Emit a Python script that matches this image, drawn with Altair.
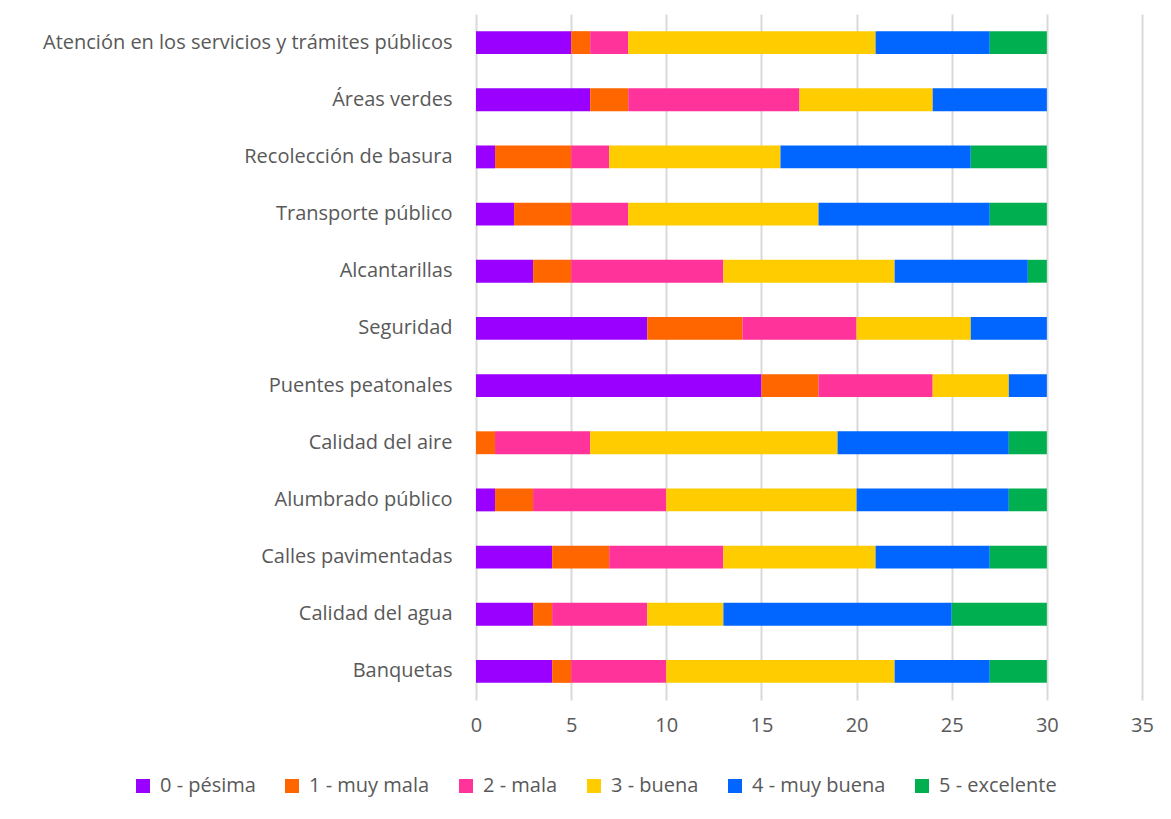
import altair as alt
import pandas as pd

categories = [
    "Atención en los servicios y trámites públicos",
    "Áreas verdes",
    "Recolección de basura",
    "Transporte público",
    "Alcantarillas",
    "Seguridad ",
    "Puentes peatonales",
    "Calidad del aire",
    "Alumbrado público",
    "Calles pavimentadas",
    "Calidad del agua",
    "Banquetas",
]
series = ["0 - pésima", "1 - muy mala", "2 - mala", "3 - buena", "4 - muy buena", "5 - excelente"]
colors = ["#9900FF", "#FF6600", "#FF3399", "#FFCC00", "#0066FF", "#00B050"]

pesima     = [5, 6, 1, 2, 3, 9, 15, 0, 1, 4, 3, 4]
muy_mala   = [1, 2, 4, 3, 2, 5, 3, 1, 2, 3, 1, 1]
mala       = [2, 9, 2, 3, 8, 6, 6, 5, 7, 6, 5, 5]
buena      = [13, 7, 9, 10, 9, 6, 4, 13, 10, 8, 4, 12]
muy_buena  = [6, 6, 10, 9, 7, 4, 2, 9, 8, 6, 12, 5]
excelente  = [3, 0, 4, 3, 1, 0, 0, 2, 2, 3, 5, 3]

values = [pesima, muy_mala, mala, buena, muy_buena, excelente]
rows = []
for k, (s, vals) in enumerate(zip(series, values)):
    for c, v in zip(categories, vals):
        rows.append({"cat": c, "serie": s, "k": k, "v": v})
df = pd.DataFrame(rows)

FONT = "Open Sans"
TXT = "#595959"
FS = 20

chart = alt.Chart(df).mark_bar().encode(
    y=alt.Y("cat:N", sort=categories, title=None,
            scale=alt.Scale(paddingInner=0.6, paddingOuter=0.3),
            axis=alt.Axis(ticks=False, domain=False, labelFontSize=FS, labelColor=TXT,
                          labelFont=FONT, labelPadding=24, labelLimit=500)),
    x=alt.X("v:Q", stack="zero", title=None,
            scale=alt.Scale(domain=[0, 35], nice=False),
            axis=alt.Axis(values=[0, 5, 10, 15, 20, 25, 30, 35], ticks=False, domain=False,
                          grid=True, gridColor="#d9d9d9", gridWidth=2, labelFlush=False,
                          labelFontSize=FS, labelColor=TXT, labelFont=FONT, labelPadding=15)),
    color=alt.Color("serie:N", scale=alt.Scale(domain=series, range=colors),
                    legend=alt.Legend(title=None, orient="none", direction="horizontal",
                                      legendX=-343, legendY=762, symbolType="square",
                                      symbolSize=196, symbolStrokeWidth=0, symbolOpacity=1,
                                      labelFontSize=FS, labelColor=TXT, labelFont=FONT,
                                      columnPadding=26, labelOffset=7)),
    order=alt.Order("k:Q"),
).properties(
    width=666, height=686,
    autosize=alt.AutoSizeParams(type="none"),
    padding={"left": 468, "top": 6, "right": 21, "bottom": 111},
).configure_view(stroke=None)

chart.save("out.html", embed_options={"renderer": "svg", "actions": False})
